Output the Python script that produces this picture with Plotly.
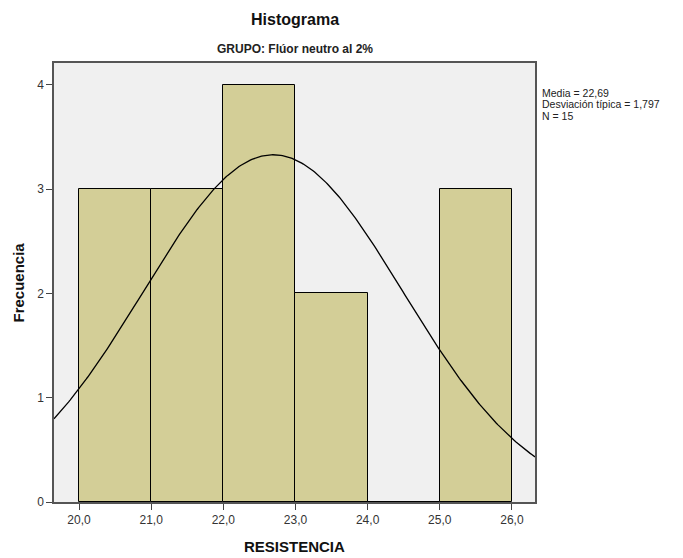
import numpy as np
import plotly.graph_objects as go

bin_left = [20.0, 21.0, 22.0, 23.0, 24.0, 25.0]
counts = [3, 3, 4, 2, 0, 3]
bin_width = 1.0
media = 22.69
desv = 1.797
n_total = 15
x_ticks = [20.0, 21.0, 22.0, 23.0, 24.0, 25.0, 26.0]
y_ticks = [0, 1, 2, 3, 4]
stats_lines = ["Media = 22,69", "Desviación típica = 1,797", "N = 15"]

x_range = [19.653, 26.32]
y_range = [0, 4.21]

centers = [b + bin_width / 2 for b in bin_left]

fig = go.Figure()
fig.add_trace(go.Bar(
    x=centers, y=counts, width=bin_width,
    marker=dict(color="#D3CE97", line=dict(color="#000000", width=1)),
    hoverinfo="skip", showlegend=False,
))

xc = np.linspace(x_range[0], x_range[1], 300)
yc = n_total * bin_width / (desv * np.sqrt(2 * np.pi)) * np.exp(-0.5 * ((xc - media) / desv) ** 2)
fig.add_trace(go.Scatter(
    x=xc, y=yc, mode="lines", line=dict(color="#000000", width=1.3),
    hoverinfo="skip", showlegend=False,
))

font_family = "Liberation Sans, Arial, sans-serif"
L, R, T, B = 54, 148, 63, 56
W, H = 683, 558
plot_h = H - T - B
plot_w = W - L - R

def py(ypix):
    return 1 + (T - ypix) / plot_h

def px(xpix):
    return (xpix - L) / plot_w

annotations = [
    dict(text="<b>Histograma</b>", x=0.5, xref="paper", y=py(20), yref="paper",
         yanchor="middle", showarrow=False, font=dict(size=16, color="#111111")),
    dict(text="<b>GRUPO: Flúor neutro al 2%</b>", x=0.5, xref="paper", y=py(49), yref="paper",
         yanchor="middle", showarrow=False, font=dict(size=12, color="#222222")),
    dict(text="<b>RESISTENCIA</b>", x=0.5, xref="paper", y=py(546), yref="paper",
         yanchor="middle", showarrow=False, font=dict(size=15, color="#111111")),
    dict(text="<b>Frecuencia</b>", x=px(18), xref="paper", y=0.5, yref="paper",
         xanchor="center", yanchor="middle", textangle=-90, showarrow=False,
         font=dict(size=15, color="#111111")),
]
for i, line in enumerate(stats_lines):
    annotations.append(dict(
        text=line, x=1 + 5 / plot_w, xref="paper", y=py(93 + 11.5 * i), yref="paper",
        xanchor="left", yanchor="middle", align="left", showarrow=False,
        font=dict(size=10.5, color="#222222"),
    ))

fig.update_layout(
    width=W, height=H,
    margin=dict(l=L, r=R, t=T, b=B),
    paper_bgcolor="#FFFFFF",
    plot_bgcolor="#F0F0F0",
    separators=",.",
    bargap=0,
    font=dict(family=font_family, size=11, color="#333333"),
    xaxis=dict(
        range=x_range, tickvals=x_ticks, tickformat=".1f", automargin=False,
        ticks="outside", ticklen=6, tickcolor="#444444", tickwidth=1,
        showgrid=False, zeroline=False,
        showline=True, linecolor="#555555", linewidth=1.5, mirror=True,
        tickfont=dict(size=12, color="#333333"),
    ),
    yaxis=dict(
        range=y_range, tickvals=y_ticks, automargin=False,
        ticks="outside", ticklen=6, tickcolor="#444444", tickwidth=1,
        showgrid=False, zeroline=False,
        showline=True, linecolor="#555555", linewidth=1.5, mirror=True,
        tickfont=dict(size=12, color="#333333"),
    ),
    annotations=annotations,
)

fig.write_html("out.html")
